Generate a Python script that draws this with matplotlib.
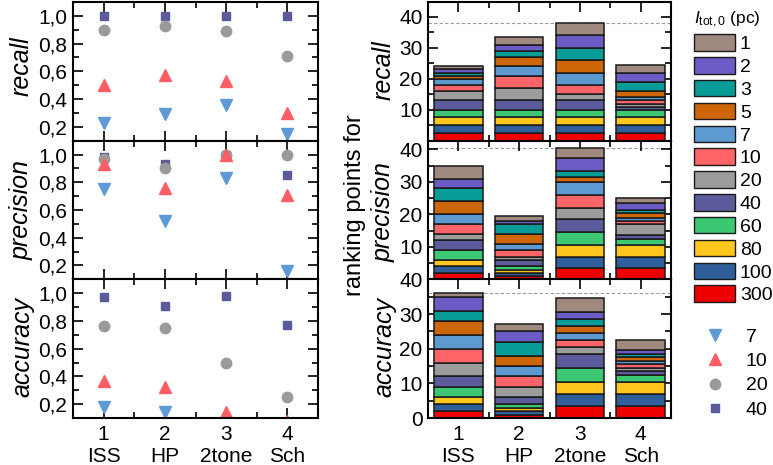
import numpy as np
import matplotlib
matplotlib.use("Agg")
import matplotlib.pyplot as plt
from matplotlib.patches import Patch
from matplotlib.lines import Line2D
from matplotlib.ticker import MultipleLocator, FuncFormatter

plt.rcParams['font.family'] = ['Liberation Sans', 'DejaVu Sans']
plt.rcParams['mathtext.fontset'] = 'custom'
plt.rcParams['mathtext.rm'] = 'Liberation Sans'
plt.rcParams['mathtext.it'] = 'Liberation Sans:italic'
plt.rcParams['font.size'] = 15

# methods on the x axis
positions = [1, 2, 3, 4]
methods = ['ISS', 'HP', '2tone', 'Sch']
metrics = ['recall', 'precision', 'accuracy']

# left column: scores for the intensities 7, 10, 20, 40 pc
recall_7 = [0.23, 0.29, 0.36, 0.15]
recall_10 = [0.50, 0.575, 0.53, 0.30]
recall_20 = [0.90, 0.93, 0.89, 0.71]
recall_40 = [1.0, 1.0, 1.0, 1.0]

precision_7 = [0.75, 0.52, 0.83, 0.16]
precision_10 = [0.93, 0.76, 1.0, 0.71]
precision_20 = [0.97, 0.90, 1.0, 1.0]
precision_40 = [0.98, 0.93, 1.0, 0.85]

accuracy_7 = [0.18, 0.14, np.nan, np.nan]
accuracy_10 = [0.37, 0.32, 0.14, 0.08]
accuracy_20 = [0.76, 0.75, 0.50, 0.25]
accuracy_40 = [0.97, 0.91, 0.98, 0.77]

# right column: ranking points, rows = intensity (bottom to top), columns = methods
intensities = ['300', '100', '80', '60', '40', '20', '10', '7', '5', '3', '2', '1']
bar_colors = ['#ee0000', '#2e5f9a', '#ffc61e', '#3cc873', '#5c5c9c', '#9c9c9c',
              '#ff6468', '#5e9ad2', '#cc6608', '#089c98', '#6a5cc4', '#a08a80']

recall_points = np.array([
    [2.5, 2.5, 2.5, 2.5],
    [2.5, 2.5, 2.5, 2.5],
    [2.5, 2.5, 2.5, 2.5],
    [2.5, 2.5, 2.5, 2.5],
    [3, 3, 3, 1],
    [3, 4, 2, 1],
    [2, 4, 3, 1],
    [2, 3, 4, 1],
    [1, 3, 4, 2],
    [1, 2, 4, 3],
    [1, 2, 4, 3],
    [1, 2.5, 4, 2.5],
])
precision_points = np.array([
    [2, 1, 3.5, 3.5],
    [2, 1, 3.5, 3.5],
    [2, 1, 3.5, 3.5],
    [3, 1, 4, 2],
    [3, 2, 4, 1],
    [2, 1, 3.5, 3.5],
    [3, 2, 4, 1],
    [3, 2, 4, 1],
    [4, 3, 1.5, 1.5],
    [4, 3, 2, 1],
    [3, 1, 4, 2],
    [4, 1.5, 3, 1.5],
])
accuracy_points = np.array([
    [2, 1, 3.5, 3.5],
    [2, 1, 3.5, 3.5],
    [2, 1, 3.5, 3.5],
    [3, 1, 4, 2],
    [3, 2, 4, 1],
    [4, 3, 2, 1],
    [4, 3, 2, 1],
    [4, 3, 2, 1],
    [4, 3, 2, 1],
    [3, 4, 2, 1],
    [4, 3, 2, 1],
    [1, 2, 4, 3],
])

scatter_data = {
    'recall': [recall_40, recall_20, recall_10, recall_7],
    'precision': [precision_40, precision_20, precision_10, precision_7],
    'accuracy': [accuracy_40, accuracy_20, accuracy_10, accuracy_7],
}
points_data = {'recall': recall_points, 'precision': precision_points,
               'accuracy': accuracy_points}
right_ylim = {'recall': 44.8, 'precision': 42.7, 'accuracy': 40}

# marker styles for 40, 20, 10, 7 pc (drawn in this order)
marker_styles = [('s', '#5b5b9b', 5.5), ('o', '#9a9a9a', 7.5),
                 ('^', '#ff5e66', 8.5), ('v', '#5e9bd6', 8.5)]
marker_labels = ['40', '20', '10', '7']

fig = plt.figure(figsize=(7.73, 4.65), dpi=100)

W, H = 773, 465
top, bottom = 1 - 2 / H, 1 - 418 / H
h = (top - bottom) / 3
left_x, left_w = 73 / W, 245 / W
right_x, right_w = 428 / W, 243 / W


def style_axes(ax):
    for s in ax.spines.values():
        s.set_linewidth(1.5)
    ax.tick_params(which='both', direction='in', top=True, right=True, width=1.2,
                   pad=4)
    ax.tick_params(which='major', length=7)
    ax.tick_params(which='minor', length=4)
    ax.set_xlim(0.5, 4.5)
    ax.xaxis.set_major_locator(MultipleLocator(1))
    ax.xaxis.set_minor_locator(MultipleLocator(0.5))


comma = FuncFormatter(lambda v, p: f"{v:.1f}".replace('.', ','))

for i, m in enumerate(metrics):
    y0 = top - (i + 1) * h

    # left: scatter of the scores
    ax = fig.add_axes([left_x, y0, left_w, h])
    style_axes(ax)
    for vals, (mk, c, ms) in zip(scatter_data[m], marker_styles):
        ax.plot(positions, vals, ls='none', marker=mk, color=c, ms=ms, mec=c)
    ax.set_ylim(0.1, 1.1)
    ax.set_yticks([0.2, 0.4, 0.6, 0.8, 1.0])
    ax.yaxis.set_minor_locator(MultipleLocator(0.1))
    ax.yaxis.set_major_formatter(comma)
    fig.text(22 / W, 1 - [66, 210, 347][i] / H, m, rotation=90, style='italic',
             fontsize=18, ha='center', va='center')

    # right: stacked ranking points
    ax2 = fig.add_axes([right_x, y0, right_w, h])
    style_axes(ax2)
    pts = points_data[m]
    cum = np.zeros(4)
    for row, c in zip(pts, bar_colors):
        ax2.bar(positions, row, 0.8, bottom=cum, color=c, edgecolor='#1a1a1a',
                linewidth=1.1, zorder=2)
        cum = cum + row
    ax2.axhline(cum.max(), color='#999999', ls=(0, (3, 2)), lw=0.8, zorder=1)
    ax2.set_ylim(0, right_ylim[m])
    if i < 2:
        ax2.set_yticks([10, 20, 30, 40])
    else:
        ax2.set_yticks([0, 10, 20, 30, 40])
    ax2.yaxis.set_minor_locator(MultipleLocator(5))
    fig.text(384 / W, 1 - [70, 212, 347][i] / H, m, rotation=90, style='italic',
             fontsize=18, ha='center', va='center')

    for a in (ax, ax2):
        if i < 2:
            a.set_xticklabels([])
        else:
            a.set_xticks(positions)
            a.set_xticklabels([f"{p}\n{n}" for p, n in zip(positions, methods)],
                              linespacing=1.2)
            a.tick_params(axis='x', pad=5)

fig.text(355 / W, 1 - 205 / H, 'ranking points for', rotation=90, fontsize=17,
         ha='center', va='center')

# legend for the stacked bars (1 pc at the top)
bar_handles = [Patch(facecolor=c, edgecolor='#1a1a1a', linewidth=1)
               for c in bar_colors[::-1]]
leg1 = fig.legend(bar_handles, intensities[::-1], loc='upper left',
                  bbox_to_anchor=(694 / W, 1 - 10 / H), frameon=False, fontsize=14,
                  title=r'$I_{\mathrm{tot,0}}$ (pc)', title_fontsize=12.5,
                  handlelength=2.1, handleheight=0.93, handletextpad=0.26,
                  labelspacing=0.2, borderpad=0, borderaxespad=0)
leg1._legend_box.align = 'left'

# legend for the scatter markers
mk_handles = [Line2D([], [], ls='none', marker=mk, color=c, ms=ms)
              for mk, c, ms in marker_styles[::-1]]
fig.legend(mk_handles, marker_labels[::-1], loc='upper left',
           bbox_to_anchor=(700 / W, 1 - 328 / H), frameon=False, fontsize=14,
           handlelength=1.55, handletextpad=0.8, labelspacing=0.35,
           borderpad=0, borderaxespad=0)

fig.savefig('out.png', dpi=100)
